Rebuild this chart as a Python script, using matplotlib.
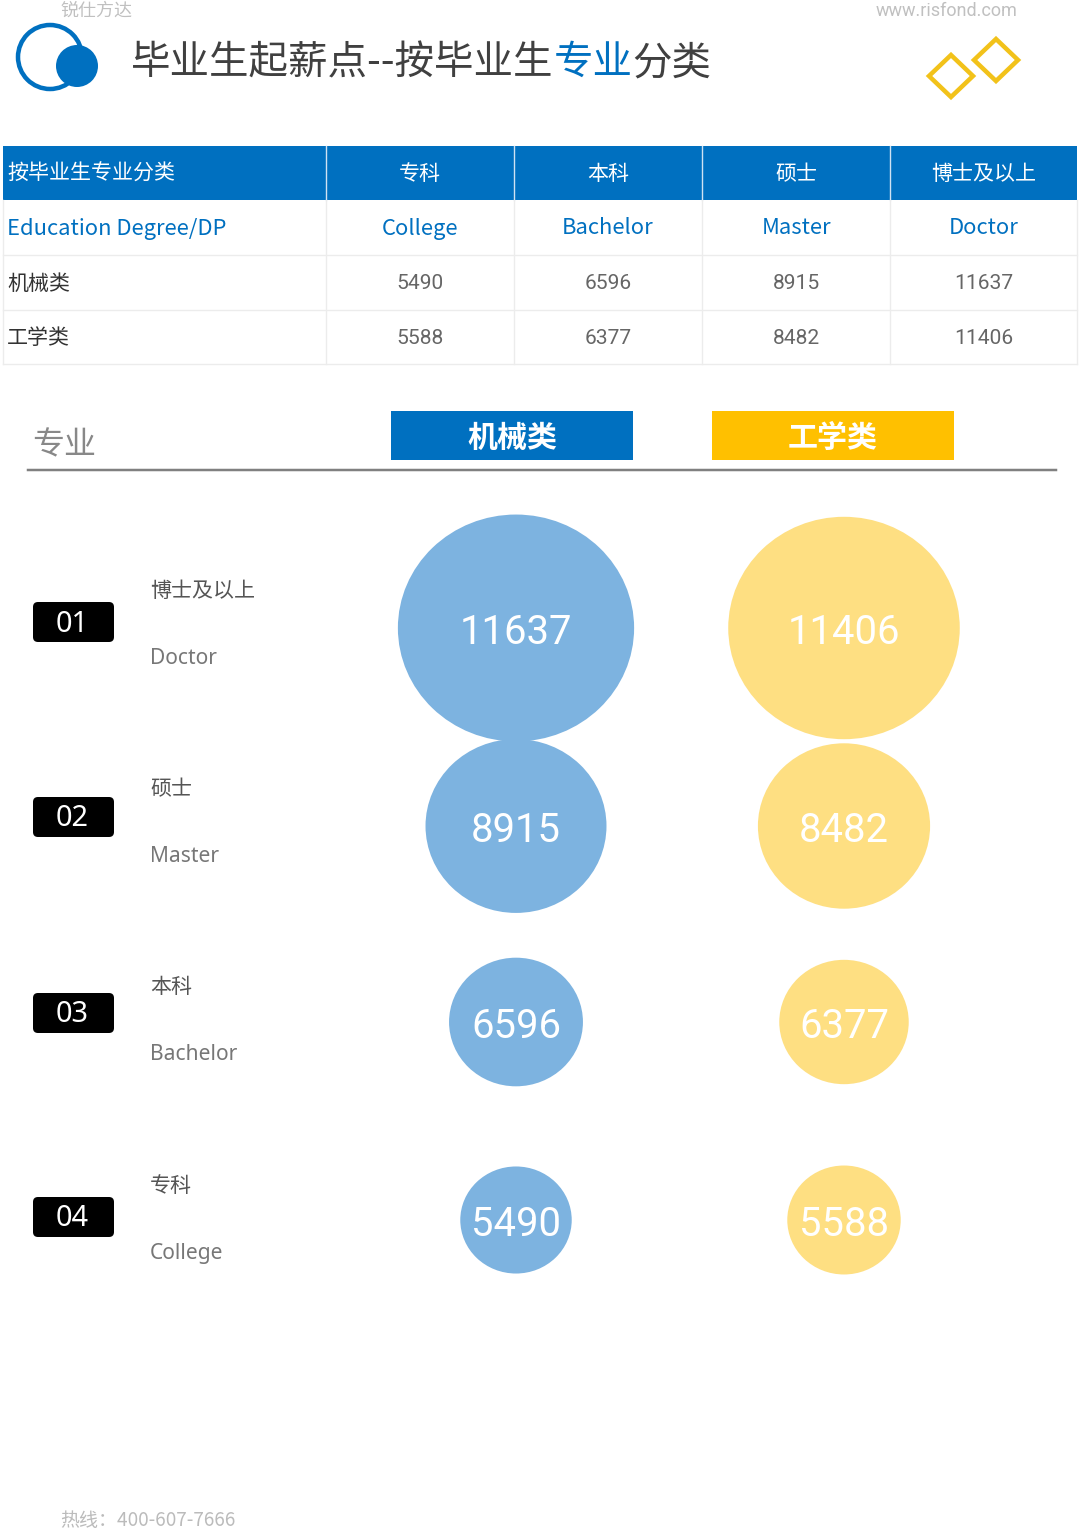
import matplotlib
matplotlib.use("Agg")
import matplotlib.pyplot as plt
from matplotlib.patches import Ellipse, Rectangle, FancyBboxPatch, Circle, Polygon

CJK = ['Noto Sans CJK SC', 'DejaVu Sans']
NUM = ['Roboto', 'Noto Sans CJK SC', 'DejaVu Sans']
plt.rcParams['font.family'] = CJK

# ---------------- data ----------------
categories = ['机械类', '工学类']
degrees_cn = ['专科', '本科', '硕士', '博士及以上']
degrees_en = ['College', 'Bachelor', 'Master', 'Doctor']
jixie = [5490, 6596, 8915, 11637]
gongxue = [5588, 6377, 8482, 11406]
table_head = ['按毕业生专业分类', '专科', '本科', '硕士', '博士及以上']
table_en = ['Education Degree/DP', 'College', 'Bachelor', 'Master', 'Doctor']
row_nums = ['01', '02', '03', '04']

BLUE = '#0070c0'
YELLOW = '#ffc000'
BUB_BLUE = '#7db3e0'
BUB_YEL = '#fedf82'

W, H = 1080, 1531
fig = plt.figure(figsize=(W / 100, H / 100), dpi=100)
ax = fig.add_axes([0, 0, 1, 1])
ax.set_xlim(0, W)
ax.set_ylim(H, 0)
ax.axis('off')

def pt(px):
    return px * 0.72

# ---------------- header ----------------
ax.text(60, 11, '锐仕方达', fontsize=pt(18), color='#c0c0c0', va='center', ha='left')
ax.text(1018, 11, 'www.risfond.com', fontsize=pt(18), color='#c0c0c0', va='center', ha='right',
        family=['Roboto', 'DejaVu Sans'])

ax.add_patch(Circle((50, 57), 32, fill=False, ec=BLUE, lw=pt(4.5)))
ax.add_patch(Circle((77, 66), 21, fc=BLUE, ec=BLUE, lw=0))

# title with coloured part
fig.canvas.draw()
renderer = fig.canvas.get_renderer()
pieces = [('毕业生起薪点--按毕业生', '#404040'), ('专业', BLUE), ('分类', '#404040')]
x = 131
for s, c in pieces:
    t = ax.text(x, 63, s, fontsize=pt(39.5), color=c, va='center', ha='left')
    bb = t.get_window_extent(renderer=renderer)
    x += bb.width

for cx, cy in [(951, 76), (996, 60)]:
    ax.add_patch(Polygon([(cx - 22, cy), (cx, cy - 21), (cx + 22, cy), (cx, cy + 21)],
                         closed=True, fill=False, ec='#f2c21a', lw=pt(4.5), joinstyle='miter'))

# ---------------- table ----------------
col_edges = [3, 326, 514, 702, 890, 1077]
row_edges = [146, 200, 255, 310, 364]
ax.add_patch(Rectangle((col_edges[0], row_edges[0]), col_edges[-1] - col_edges[0],
                       row_edges[1] - row_edges[0], fc=BLUE, ec='none'))
for xe in col_edges[1:-1]:
    ax.plot([xe, xe], [row_edges[0], row_edges[1]], color='#cfe2f3', lw=1)
    ax.plot([xe, xe], [row_edges[1], row_edges[-1]], color='#ececec', lw=1)
for ye in row_edges[2:]:
    ax.plot([col_edges[0], col_edges[-1]], [ye, ye], color='#ececec', lw=1)
ax.plot([col_edges[0], col_edges[0]], [row_edges[1], row_edges[-1]], color='#ececec', lw=1)
ax.plot([col_edges[-1], col_edges[-1]], [row_edges[1], row_edges[-1]], color='#ececec', lw=1)

def row_y(i):
    return (row_edges[i] + row_edges[i + 1]) / 2 + 1

for j, s in enumerate(table_head):
    if j == 0:
        ax.text(7, row_y(0), s, fontsize=pt(21), color='white', va='center', ha='left')
    else:
        ax.text((col_edges[j] + col_edges[j + 1]) / 2, row_y(0), s, fontsize=pt(21),
                color='white', va='center', ha='center')
for j, s in enumerate(table_en):
    if j == 0:
        ax.text(7, row_y(1), s, fontsize=pt(22), color=BLUE, va='center', ha='left')
    else:
        ax.text((col_edges[j] + col_edges[j + 1]) / 2, row_y(1), s, fontsize=pt(22),
                color=BLUE, va='center', ha='center')
for r, (name, vals) in enumerate([(categories[0], jixie), (categories[1], gongxue)]):
    ax.text(7, row_y(2 + r), name, fontsize=pt(21), color='#333333', va='center', ha='left')
    for j, v in enumerate(vals):
        ax.text((col_edges[j + 1] + col_edges[j + 2]) / 2, row_y(2 + r), str(v),
                fontsize=pt(21), color='#666666', va='center', ha='center', family=NUM)

# ---------------- legend area ----------------
ax.text(32, 445, '专业', fontsize=pt(32), color='#888888', va='center', ha='left')
for (x0, col), name in zip([(391, BLUE), (712, YELLOW)], categories):
    ax.add_patch(Rectangle((x0, 411), 242, 49, fc=col, ec='none'))
    ax.text(x0 + 121, 438, name, fontsize=pt(30), color='white', va='center', ha='center',
            fontweight='bold')
ax.plot([28, 1056], [470, 470], color='#808080', lw=pt(2.5))

# ---------------- bubble rows ----------------
row_centers = [628, 826, 1022, 1220]
badge_centers = [622, 817, 1013, 1217]
cn_y = [591, 789, 987, 1186]
en_y = [658, 856, 1055, 1254]
KX, KY = 0.0203, 0.0195
order = [3, 2, 1, 0]  # Doctor first
for i, idx in enumerate(order):
    bc = badge_centers[i]
    ax.add_patch(FancyBboxPatch((33, bc - 20), 81, 40,
                                boxstyle='round,pad=0,rounding_size=5', fc='black', ec='none'))
    ax.text(72, bc + 2, row_nums[i], fontsize=pt(29), color='white', va='center', ha='center',
            family=['Noto Sans', 'DejaVu Sans'])
    ax.text(150, cn_y[i], degrees_cn[idx], fontsize=pt(21), color='#555555', va='center',
            ha='left')
    ax.text(150, en_y[i], degrees_en[idx], fontsize=pt(21), color='#777777', va='center',
            ha='left', family=['Noto Sans', 'DejaVu Sans'])
    for cx, vals, col in [(516, jixie, BUB_BLUE), (844, gongxue, BUB_YEL)]:
        v = vals[idx]
        ax.add_patch(Ellipse((cx, row_centers[i]), KX * v, KY * v, fc=col, ec='none'))
        ax.text(cx, row_centers[i] + 4, str(v), fontsize=pt(40), color='white',
                va='center', ha='center', family=NUM)

ax.text(60, 1521, '热线：400-607-7666', fontsize=pt(19), color='#bbbbbb', va='center',
        ha='left')

fig.savefig('out.png', dpi=100)
